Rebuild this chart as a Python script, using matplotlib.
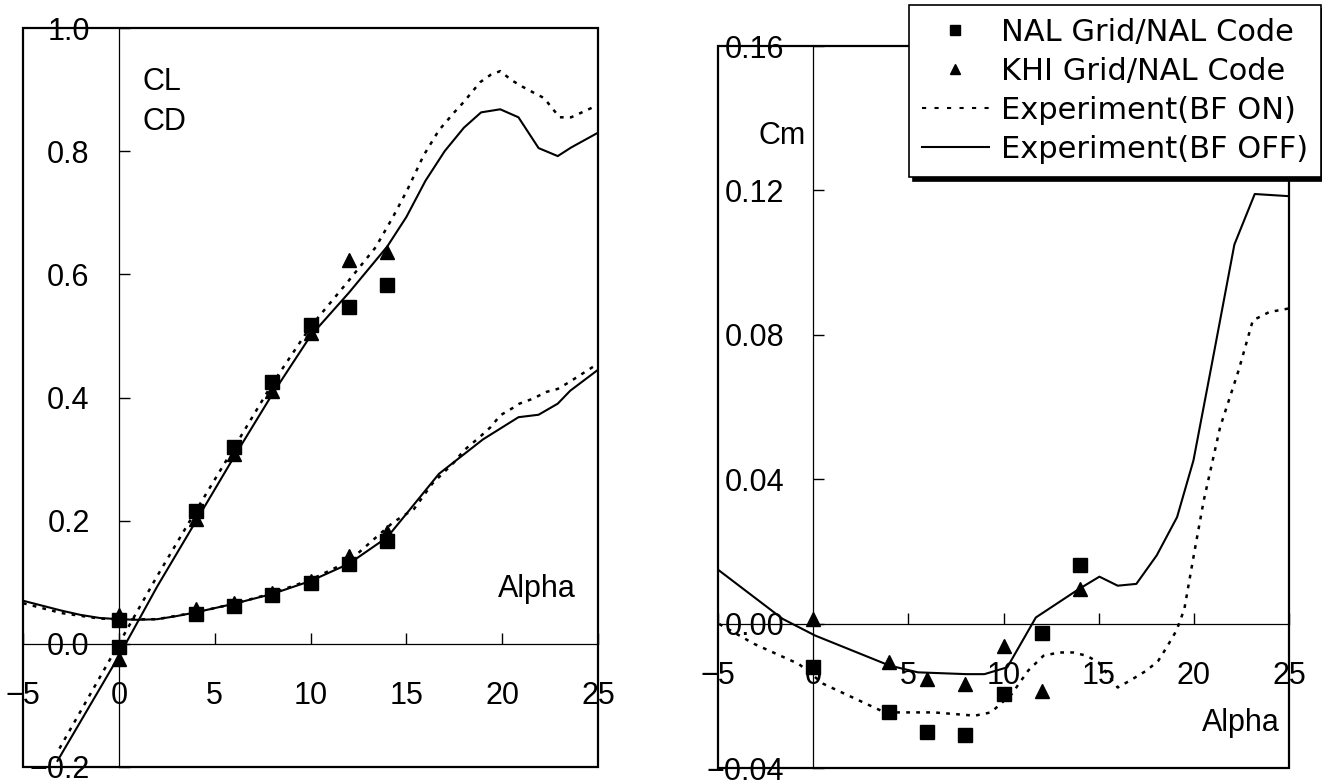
import matplotlib
matplotlib.use("Agg")
import matplotlib.pyplot as plt
from matplotlib.lines import Line2D
from matplotlib.patches import Rectangle

# ---------------- data ----------------
alpha_cfd = [0, 4, 6, 8, 10, 12, 14]

# left panel: CL / CD
cl_nal = [-0.005, 0.216, 0.319, 0.425, 0.517, 0.547, 0.582]
cl_khi = [-0.024, 0.203, 0.308, 0.411, 0.504, 0.623, 0.636]
cd_nal = [0.038, 0.048, 0.062, 0.079, 0.099, 0.130, 0.167]
cd_khi = [0.047, 0.056, 0.067, 0.082, 0.102, 0.142, 0.181]

cl_on_alpha = [-3.1, 0, 2, 4, 6, 8, 10, 12, 13.4, 14.3, 15.05, 15.9, 16.7, 17.5, 18.0,
               18.85, 19.4, 19.9, 20.5, 21.1, 21.7, 22.2, 22.6, 23.0, 23.6, 24.3, 25]
cl_on = [-0.17, 0.0, 0.11, 0.215, 0.318, 0.422, 0.515, 0.59, 0.644, 0.693, 0.737, 0.793,
         0.834, 0.863, 0.88, 0.912, 0.924, 0.93, 0.915, 0.904, 0.894, 0.886, 0.87, 0.855,
         0.855, 0.865, 0.875]

cl_off_alpha = [-3.2, 0, 2, 4, 6, 8, 10, 12, 14, 15, 16, 17, 18, 18.9, 19.9, 20.85, 21.9,
                22.9, 23.6, 25]
cl_off = [-0.19, -0.02, 0.093, 0.198, 0.303, 0.405, 0.5, 0.57, 0.645, 0.693, 0.752, 0.80,
          0.838, 0.863, 0.868, 0.855, 0.805, 0.792, 0.806, 0.83]

cd_off_alpha = [-5, -4, -3, -2, -1, 0, 1, 2, 3, 4, 6, 8, 10, 12, 14, 15, 16.7, 19, 20.85,
                21.9, 22.9, 23.55, 25]
cd_off = [0.070, 0.062, 0.054, 0.047, 0.042, 0.040, 0.039, 0.040, 0.045, 0.051, 0.065,
          0.081, 0.102, 0.130, 0.173, 0.211, 0.276, 0.332, 0.368, 0.372, 0.390, 0.411, 0.445]

cd_on_alpha = [-5, -3, -1, 0, 2, 4, 6, 8, 10, 12, 14.3, 15.4, 16.35, 17.5, 18.0, 18.8,
               19.4, 19.9, 20.5, 20.9, 21.6, 22.3, 22.9, 23.5, 25]
cd_on = [0.066, 0.050, 0.041, 0.040, 0.040, 0.051, 0.065, 0.082, 0.104, 0.134, 0.197,
         0.219, 0.260, 0.295, 0.314, 0.335, 0.352, 0.371, 0.382, 0.390, 0.398, 0.409,
         0.414, 0.425, 0.455]

# right panel: Cm
cm_nal = [-0.012, -0.0246, -0.0301, -0.0309, -0.0195, -0.0027, 0.0161]
cm_khi = [0.0013, -0.0107, -0.0153, -0.0167, -0.0061, -0.0186, 0.0096]

cm_off_alpha = [-4.94, -1.6, 0.1, 4.0, 5.5, 8.05, 9.0, 10.2, 11.7, 13.97, 15.04, 16.0,
                16.98, 18.05, 19.12, 19.98, 20.95, 22.13, 23.2, 25.0]
cm_off = [0.0147, 0.0013, -0.0033, -0.0116, -0.0135, -0.0140, -0.0140, -0.0121, 0.0017,
          0.0096, 0.0130, 0.0105, 0.0110, 0.0189, 0.0295, 0.0452, 0.0720, 0.1050, 0.1190,
          0.1184]

cm_on_alpha = [-4.94, -3.11, -0.75, 0.54, 3.76, 6.34, 8.49, 9.34, 10.43, 11.3, 12.1, 12.9,
               13.66, 14.37, 14.98, 16.0, 16.64, 17.52, 18.13, 18.57, 19.09, 19.5, 20.0,
               20.52, 21.38, 22.35, 23.1, 23.96, 25.0]
cm_on = [-0.0001, -0.0056, -0.0112, -0.0167, -0.0246, -0.0246, -0.0255, -0.0246, -0.0195,
         -0.0130, -0.0089, -0.0080, -0.0080, -0.0089, -0.0107, -0.0177, -0.0158, -0.0130,
         -0.0103, -0.0066, -0.0019, 0.0040, 0.0190, 0.0341, 0.0544, 0.0701, 0.0840, 0.0863,
         0.0873]

left_xticks = [-5, 0, 5, 10, 15, 20, 25]
left_xlabels = ["\u22125", "0", "5", "10", "15", "20", "25"]
left_yticks = [-0.2, 0.0, 0.2, 0.4, 0.6, 0.8, 1.0]
left_ylabels = ["\u22120.2", "0.0", "0.2", "0.4", "0.6", "0.8", "1.0"]
right_xticks = [-5, 0, 5, 10, 15, 20, 25]
right_xlabels = ["\u22125", "0", "5", "10", "15", "20", "25"]
right_yticks = [-0.04, 0.0, 0.04, 0.08, 0.12, 0.16]
right_ylabels = ["\u22120.04", "0.00", "0.04", "0.08", "0.12", "0.16"]

legend_labels = ["NAL Grid/NAL Code", "KHI Grid/NAL Code",
                 "Experiment(BF ON)", "Experiment(BF OFF)"]

# ---------------- styling ----------------
FONT = "Liberation Sans"
FS = 22
W, H = 1322, 784
DOT = (0, (1.5, 2.5))

plt.rcParams["font.family"] = [FONT, "DejaVu Sans"]

fig = plt.figure(figsize=(W / 100, H / 100), dpi=100)


def px_axes(x0, x1, ytop, ybot):
    return fig.add_axes([x0 / W, 1 - ybot / H, (x1 - x0) / W, (ybot - ytop) / H])


def style(ax, xlim, ylim, xt, xl, yt, yl):
    ax.set_xlim(*xlim)
    ax.set_ylim(*ylim)
    for s in ("top", "right"):
        ax.spines[s].set_visible(False)
    ax.spines["left"].set_position(("data", 0))
    ax.spines["bottom"].set_position(("data", 0))
    ax.spines["left"].set_linewidth(0.9)
    ax.spines["bottom"].set_linewidth(0.9)
    ax.add_patch(Rectangle((0, 0), 1, 1, transform=ax.transAxes, fill=False,
                           lw=1.6, ec="black", clip_on=False, zorder=1))
    ax.set_xticks(xt, labels=xl)
    ax.set_yticks(yt, labels=yl)
    ax.tick_params(axis="both", direction="in", length=8, width=1, labelsize=FS,
                   colors="black")
    ax.tick_params(axis="x", pad=27)
    ax.tick_params(axis="y", pad=21)
    ax.patch.set_alpha(0)


mk = dict(color="black", linestyle="none", zorder=4, clip_on=False)

# ---------------- left panel ----------------
axL = px_axes(23, 598, 28, 767)
style(axL, (-5, 25), (-0.2, 1.0), left_xticks, left_xlabels, left_yticks, left_ylabels)
axL.plot(cl_on_alpha, cl_on, color="black", lw=1.8, ls=DOT)
axL.plot(cl_off_alpha, cl_off, color="black", lw=1.5)
axL.plot(cd_on_alpha, cd_on, color="black", lw=1.8, ls=DOT)
axL.plot(cd_off_alpha, cd_off, color="black", lw=1.5)
axL.plot(alpha_cfd, cl_nal, marker="s", ms=9.5, **mk)
axL.plot(alpha_cfd, cd_nal, marker="s", ms=9.5, **mk)
axL.plot(alpha_cfd, cl_khi, marker="^", ms=10, **mk)
axL.plot(alpha_cfd, cd_khi, marker="^", ms=10, **mk)
axL.text(1.25, 0.913, "CL", fontsize=FS, ha="left", va="center")
axL.text(1.25, 0.848, "CD", fontsize=FS, ha="left", va="center")
axL.text(19.8, 0.089, "Alpha", fontsize=FS, ha="left", va="center")

# ---------------- right panel ----------------
axR = px_axes(718, 1289, 46, 768)
style(axR, (-5, 25), (-0.04, 0.16), right_xticks, right_xlabels, right_yticks,
      right_ylabels)
axR.plot(cm_on_alpha, cm_on, color="black", lw=1.8, ls=DOT)
axR.plot(cm_off_alpha, cm_off, color="black", lw=1.5)
axR.plot(alpha_cfd, cm_nal, marker="s", ms=9.5, **mk)
axR.plot(alpha_cfd, cm_khi, marker="^", ms=10, **mk)
axR.text(-2.89, 0.135, "Cm", fontsize=FS, ha="left", va="center")
axR.text(20.4, -0.0274, "Alpha", fontsize=FS, ha="left", va="center")

# ---------------- legend ----------------
handles = [
    Line2D([], [], color="black", marker="s", ls="none", ms=7.5),
    Line2D([], [], color="black", marker="^", ls="none", ms=7.5),
    Line2D([], [], color="black", lw=1.5, ls=(0, (2, 4))),
    Line2D([], [], color="black", lw=1.5),
]
leg = fig.legend(handles, legend_labels, loc="upper left",
                 bbox_to_anchor=(909 / W, 1 - 5 / H), borderaxespad=0,
                 prop={"family": "DejaVu Sans", "size": FS},
                 handlelength=2.2, handletextpad=0.4, borderpad=0.42,
                 labelspacing=0.33, fancybox=False, frameon=True,
                 shadow={"ox": 3, "oy": -3, "facecolor": "black",
                         "edgecolor": "black", "alpha": 1})
leg.get_frame().set_edgecolor("black")
leg.get_frame().set_linewidth(1.2)
leg.get_frame().set_alpha(1)

fig.savefig("out.png", dpi=100)
